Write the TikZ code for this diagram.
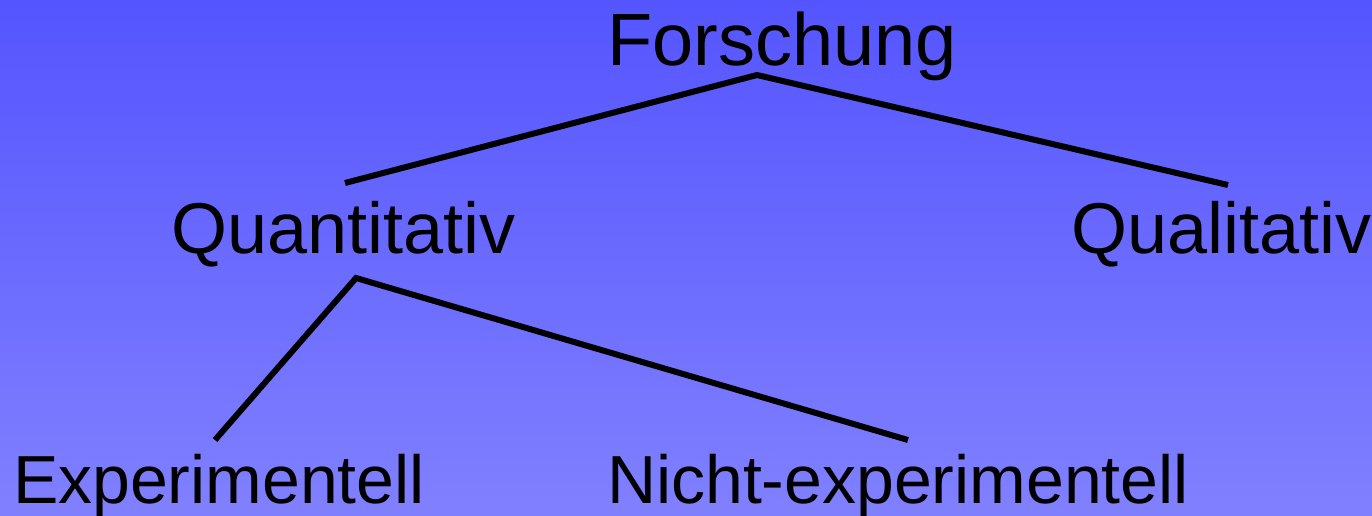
\documentclass[tikz,border=0pt]{standalone}
\usepackage{fontspec}
\setmainfont{Liberation Sans}
\begin{document}
\begin{tikzpicture}[x=0.5pt,y=-0.5pt,
  label/.style={anchor=base west,inner sep=0pt,outer sep=0pt},
  top/.style={label,font=\fontsize{37}{40}\selectfont},
  mid/.style={label,font=\fontsize{36}{40}\selectfont},
  low/.style={label,font=\fontsize{34}{38}\selectfont},
  branch/.style={line width=3pt,line cap=butt,line join=miter}]
\definecolor{topblue}{HTML}{5555FF}
\definecolor{botblue}{HTML}{8080FF}
% background
\shade[top color=topblue,bottom color=botblue] (0,0) rectangle (1372,515);
\useasboundingbox (0,0) rectangle (1372,515);
% labels
\node[top] (forschung) at (607,65) {Forschung};
\node[mid] (quant) at (171,253) {Quantitativ};
\node[mid] (qual) at (1071,253) {Qualitativ};
\node[low] (exp) at (13,503) {Experimentell};
\node[low] (nexp) at (607,503) {Nicht-experimentell};
% branch points
\coordinate (fpeak) at (757,75);
\coordinate (fleft) at (345,183);
\coordinate (fright) at (1228,185);
\coordinate (qpeak) at (356,278);
\coordinate (qleft) at (215,440);
\coordinate (qright) at (908,440);
% connectors
\draw[branch] (fleft) -- (fpeak) -- (fright);
\draw[branch] (qleft) -- (qpeak) -- (qright);
\end{tikzpicture}
\end{document}
